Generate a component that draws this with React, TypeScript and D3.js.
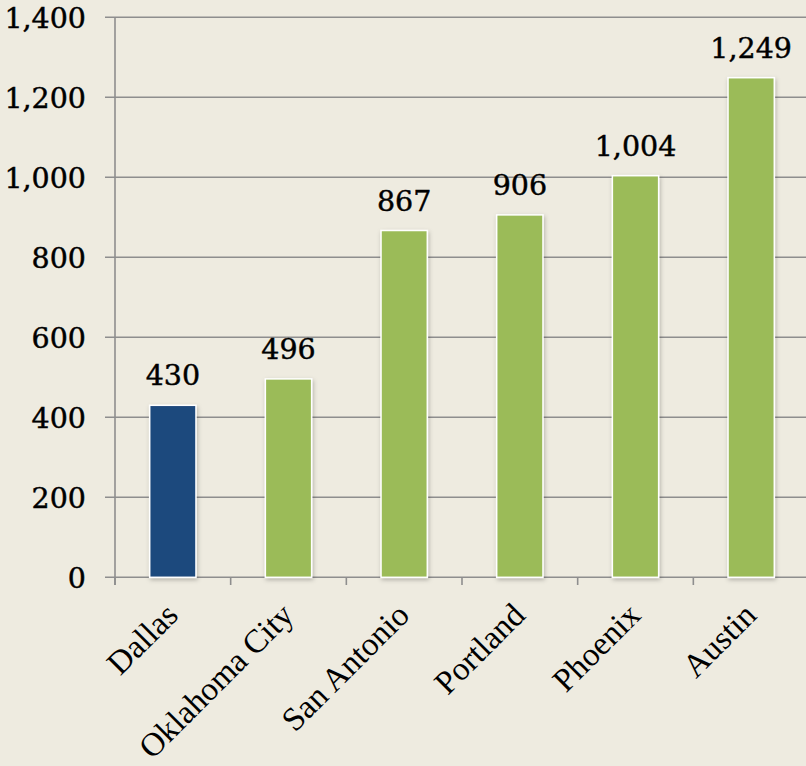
import React, { useEffect } from "react";
import * as d3 from "d3";

const categories = ["Dallas", "Oklahoma City", "San Antonio", "Portland", "Phoenix", "Austin"];
const values = [430, 496, 867, 906, 1004, 1249];
const highlight = [true, false, false, false, false, false];
const yTicks = [0, 200, 400, 600, 800, 1000, 1200, 1400];

const W = 806;
const H = 766;

export default function App() {
  useEffect(() => {
    document.body.style.margin = "0";
  }, []);

  const x = d3.scaleBand<string>().domain(categories).range([115, 809]).paddingInner(0.6).paddingOuter(0.3);
  const xTick = d3.scaleBand<string>().domain(categories).range([115, 809]);
  const y = d3.scaleLinear().domain([0, 1400]).range([577.3, 17.3]);
  const fmt = d3.format(",");

  const numStyle = {
    fontFamily: "DejaVu Serif",
    fontSize: 28.5,
    fill: "#000",
    stroke: "#000",
    strokeWidth: 0.45,
  };

  return (
    <svg width={W} height={H} style={{ display: "block", background: "#EEEBE0" }}>
      <defs>
        <filter id="sh" x="-30%" y="-10%" width="160%" height="130%">
          <feDropShadow dx="1" dy="2" stdDeviation="2" floodColor="#000" floodOpacity="0.25" />
        </filter>
      </defs>
      <rect width={W} height={H} fill="#EEEBE0" />
      {yTicks.map((t) => (
        <g key={t}>
          <line x1={105} x2={W} y1={y(t)} y2={y(t)} stroke="#8E8E8E" strokeWidth={1.6} />
          <text x={86} y={y(t)} dy="0.36em" textAnchor="end" style={numStyle}>
            {fmt(t)}
          </text>
        </g>
      ))}
      <line x1={115} x2={115} y1={17.3} y2={585} stroke="#8E8E8E" strokeWidth={1.6} />
      {categories.map((c) => (
        <line
          key={"t" + c}
          x1={xTick(c) as number}
          x2={xTick(c) as number}
          y1={577}
          y2={585}
          stroke="#8E8E8E"
          strokeWidth={1.6}
        />
      ))}
      {categories.map((c, i) => (
        <g key={c}>
          <rect
            x={x(c)}
            y={y(values[i])}
            width={x.bandwidth()}
            height={y(0) - y(values[i])}
            fill={highlight[i] ? "#1F497D" : "#9BBB59"}
            stroke="#FFFFFF"
            strokeWidth={1.5}
            filter="url(#sh)"
          />
          <text
            x={(x(c) as number) + x.bandwidth() / 2}
            y={y(values[i]) - 20}
            textAnchor="middle"
            style={numStyle}
          >
            {fmt(values[i])}
          </text>
          <text
            transform={`translate(${(xTick(c) as number) + xTick.bandwidth() / 2 + 7},${617}) rotate(-45)`}
            textAnchor="end"
            fontFamily="Liberation Serif"
            fontSize={33}
            fill="#000"
          >
            {c}
          </text>
        </g>
      ))}
    </svg>
  );
}
